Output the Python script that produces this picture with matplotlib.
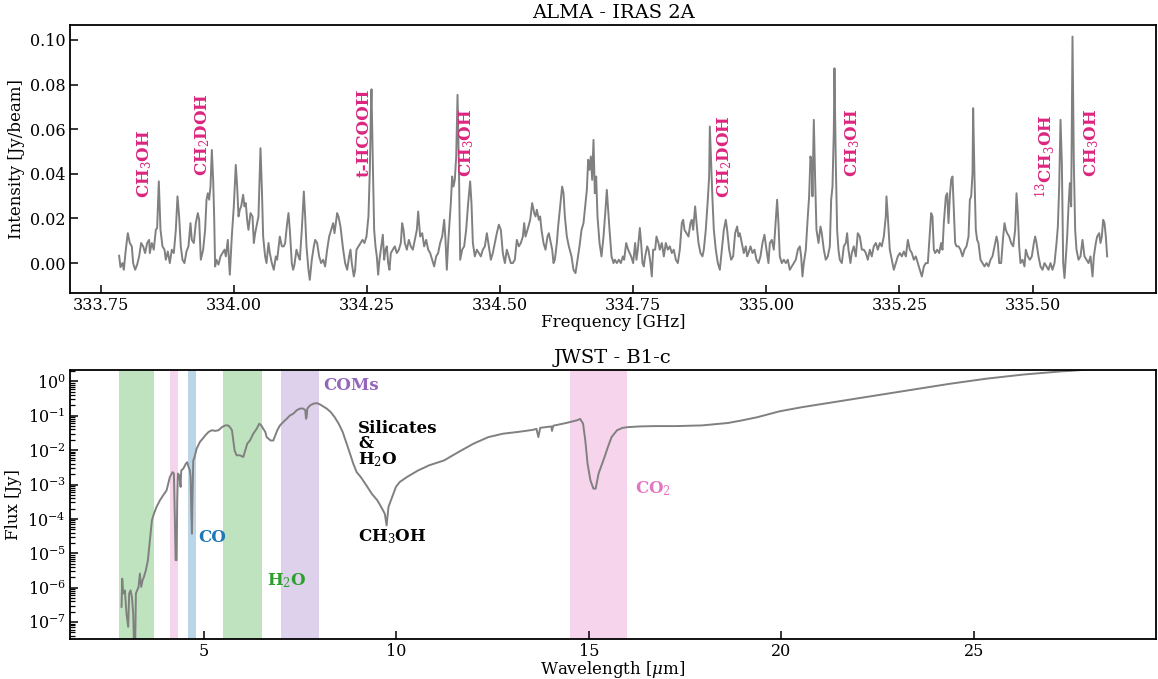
import numpy as np
import matplotlib
matplotlib.use("Agg")
import matplotlib.pyplot as plt
from matplotlib.ticker import LogLocator, NullFormatter, FixedLocator, LogFormatterSciNotation

plt.rcParams['font.family'] = 'DejaVu Serif'
plt.rcParams['mathtext.fontset'] = 'dejavuserif'

# --- ALMA spectrum ---
alma_freq = [
    333.7844, 333.7869, 333.7907, 333.7932, 333.7969, 333.8007, 333.8044, 333.8082, 333.8107, 333.8145,
    333.8182, 333.8220, 333.8257, 333.8295, 333.8332, 333.8370, 333.8408, 333.8420, 333.8458, 333.8495,
    333.8533, 333.8558, 333.8589, 333.8621, 333.8658, 333.8696, 333.8721, 333.8758, 333.8796, 333.8833,
    333.8871, 333.8909, 333.8940, 333.8971, 333.9002, 333.9034, 333.9071, 333.9109, 333.9146, 333.9184,
    333.9209, 333.9247, 333.9284, 333.9322, 333.9347, 333.9378, 333.9422, 333.9459, 333.9485, 333.9510,
    333.9535, 333.9560, 333.9585, 333.9610, 333.9629, 333.9647, 333.9672, 333.9710, 333.9748, 333.9785,
    333.9823, 333.9848, 333.9885, 333.9923, 333.9960, 333.9998, 334.0035, 334.0061, 334.0086, 334.0111,
    334.0136, 334.0173, 334.0198, 334.0223, 334.0248, 334.0273, 334.0311, 334.0349, 334.0374, 334.0399,
    334.0424, 334.0461, 334.0499, 334.0524, 334.0549, 334.0586, 334.0612, 334.0649, 334.0674, 334.0712,
    334.0749, 334.0787, 334.0812, 334.0862, 334.0900, 334.0937, 334.0962, 334.1000, 334.1025, 334.1050,
    334.1087, 334.1112, 334.1137, 334.1175, 334.1213, 334.1238, 334.1275, 334.1313, 334.1338, 334.1363,
    334.1400, 334.1425, 334.1463, 334.1501, 334.1526, 334.1563, 334.1601, 334.1638, 334.1676, 334.1713,
    334.1751, 334.1789, 334.1826, 334.1864, 334.1889, 334.1939, 334.1964, 334.2001, 334.2052, 334.2089,
    334.2127, 334.2164, 334.2189, 334.2214, 334.2252, 334.2277, 334.2302, 334.2340, 334.2377, 334.2415,
    334.2452, 334.2490, 334.2527, 334.2553, 334.2572, 334.2584, 334.2609, 334.2634, 334.2659, 334.2684,
    334.2709, 334.2734, 334.2760, 334.2797, 334.2822, 334.2847, 334.2872, 334.2897, 334.2922, 334.2947,
    334.2985, 334.3022, 334.3060, 334.3098, 334.3135, 334.3160, 334.3185, 334.3210, 334.3248, 334.3285,
    334.3323, 334.3361, 334.3398, 334.3436, 334.3461, 334.3498, 334.3536, 334.3573, 334.3611, 334.3649,
    334.3686, 334.3724, 334.3761, 334.3799, 334.3836, 334.3874, 334.3912, 334.3949, 334.3974, 334.3999,
    334.4024, 334.4049, 334.4074, 334.4099, 334.4124, 334.4149, 334.4175, 334.4200, 334.4225, 334.4250,
    334.4287, 334.4325, 334.4362, 334.4400, 334.4437, 334.4462, 334.4488, 334.4525, 334.4563, 334.4600,
    334.4638, 334.4675, 334.4713, 334.4751, 334.4788, 334.4826, 334.4863, 334.4901, 334.4938, 334.4976,
    334.5013, 334.5051, 334.5089, 334.5126, 334.5164, 334.5201, 334.5239, 334.5276, 334.5314, 334.5352,
    334.5389, 334.5427, 334.5452, 334.5477, 334.5514, 334.5565, 334.5602, 334.5640, 334.5665, 334.5690,
    334.5727, 334.5752, 334.5777, 334.5815, 334.5852, 334.5890, 334.5915, 334.5953, 334.5978, 334.6003,
    334.6028, 334.6065, 334.6090, 334.6128, 334.6165, 334.6191, 334.6216, 334.6253, 334.6291, 334.6341,
    334.6378, 334.6416, 334.6453, 334.6491, 334.6529, 334.6566, 334.6604, 334.6629, 334.6654, 334.6679,
    334.6704, 334.6729, 334.6754, 334.6779, 334.6804, 334.6829, 334.6867, 334.6904, 334.6942, 334.6979,
    334.7004, 334.7029, 334.7055, 334.7092, 334.7130, 334.7155, 334.7192, 334.7230, 334.7267, 334.7305,
    334.7330, 334.7368, 334.7405, 334.7461, 334.7499, 334.7536, 334.7561, 334.7586, 334.7624, 334.7649,
    334.7674, 334.7699, 334.7724, 334.7762, 334.7787, 334.7824, 334.7849, 334.7874, 334.7912, 334.7937,
    334.7974, 334.7999, 334.8037, 334.8075, 334.8112, 334.8150, 334.8187, 334.8225, 334.8262, 334.8300,
    334.8338, 334.8375, 334.8413, 334.8438, 334.8463, 334.8500, 334.8538, 334.8575, 334.8600, 334.8626,
    334.8663, 334.8701, 334.8726, 334.8763, 334.8801, 334.8826, 334.8863, 334.8901, 334.8926, 334.8939,
    334.8964, 334.8989, 334.9014, 334.9051, 334.9089, 334.9127, 334.9164, 334.9202, 334.9239, 334.9264,
    334.9302, 334.9339, 334.9377, 334.9414, 334.9452, 334.9477, 334.9502, 334.9540, 334.9577, 334.9615,
    334.9640, 334.9665, 334.9703, 334.9740, 334.9778, 334.9815, 334.9853, 334.9890, 334.9928, 334.9965,
    335.0003, 335.0040, 335.0066, 335.0103, 335.0141, 335.0178, 335.0203, 335.0228, 335.0253, 335.0291,
    335.0329, 335.0366, 335.0404, 335.0441, 335.0479, 335.0516, 335.0554, 335.0592, 335.0629, 335.0654,
    335.0679, 335.0704, 335.0742, 335.0779, 335.0804, 335.0829, 335.0854, 335.0867, 335.0892, 335.0917,
    335.0942, 335.0980, 335.1017, 335.1042, 335.1080, 335.1117, 335.1155, 335.1193, 335.1218, 335.1243,
    335.1268, 335.1280, 335.1305, 335.1330, 335.1355, 335.1380, 335.1418, 335.1456, 335.1493, 335.1518,
    335.1543, 335.1580, 335.1605, 335.1643, 335.1681, 335.1718, 335.1756, 335.1794, 335.1831, 335.1869,
    335.1906, 335.1944, 335.1981, 335.2019, 335.2057, 335.2094, 335.2132, 335.2169, 335.2207, 335.2244,
    335.2257, 335.2282, 335.2319, 335.2358, 335.2395, 335.2433, 335.2470, 335.2508, 335.2545, 335.2583,
    335.2621, 335.2658, 335.2696, 335.2733, 335.2771, 335.2808, 335.2846, 335.2883, 335.2921, 335.2959,
    335.2996, 335.3034, 335.3071, 335.3096, 335.3121, 335.3146, 335.3172, 335.3209, 335.3247, 335.3284,
    335.3309, 335.3334, 335.3372, 335.3397, 335.3422, 335.3447, 335.3472, 335.3497, 335.3522, 335.3547,
    335.3572, 335.3610, 335.3647, 335.3685, 335.3722, 335.3760, 335.3798, 335.3823, 335.3848, 335.3873,
    335.3885, 335.3910, 335.3935, 335.3960, 335.3985, 335.4023, 335.4061, 335.4098, 335.4136, 335.4173,
    335.4211, 335.4248, 335.4286, 335.4324, 335.4349, 335.4374, 335.4411, 335.4449, 335.4474, 335.4499,
    335.4524, 335.4561, 335.4599, 335.4637, 335.4674, 335.4699, 335.4724, 335.4749, 335.4774, 335.4812,
    335.4849, 335.4874, 335.4912, 335.4950, 335.4987, 335.5025, 335.5050, 335.5075, 335.5112, 335.5150,
    335.5188, 335.5225, 335.5263, 335.5300, 335.5338, 335.5375, 335.5413, 335.5451, 335.5476, 335.5501,
    335.5526, 335.5551, 335.5576, 335.5601, 335.5626, 335.5651, 335.5676, 335.5701, 335.5726, 335.5751,
    335.5776, 335.5801, 335.5826, 335.5864, 335.5901, 335.5939, 335.5976, 335.6014, 335.6052, 335.6089,
    335.6127, 335.6152, 335.6189, 335.6214, 335.6252, 335.6277, 335.6302, 335.6327, 335.6352, 335.6377,
    335.6402,
]
alma_intensity = [
    0.0033, -0.0018, 0.0000, -0.0030, 0.0060, 0.0134, 0.0090, 0.0075, 0.0000, -0.0030,
    -0.0007, 0.0030, 0.0090, 0.0075, 0.0045, 0.0090, 0.0104, 0.0045, 0.0090, 0.0060,
    0.0149, 0.0157, 0.0366, 0.0149, 0.0075, 0.0060, 0.0015, 0.0052, 0.0000, 0.0060,
    0.0045, 0.0149, 0.0299, 0.0209, 0.0075, 0.0015, 0.0000, 0.0052, 0.0075, 0.0179,
    0.0104, 0.0090, 0.0179, 0.0224, 0.0194, 0.0015, 0.0060, 0.0149, 0.0284, 0.0313,
    0.0284, 0.0343, 0.0507, 0.0373, 0.0209, -0.0015, 0.0015, -0.0007, 0.0030, 0.0045,
    0.0060, 0.0030, 0.0104, -0.0052, 0.0119, 0.0254, 0.0440, 0.0343, 0.0209, 0.0239,
    0.0254, 0.0306, 0.0254, 0.0269, 0.0194, 0.0149, 0.0224, 0.0209, 0.0090, 0.0134,
    0.0164, 0.0209, 0.0515, 0.0343, 0.0119, 0.0030, 0.0000, 0.0090, 0.0045, 0.0000,
    -0.0030, 0.0030, 0.0015, 0.0119, 0.0075, 0.0075, 0.0090, 0.0179, 0.0224, 0.0149,
    0.0000, -0.0030, -0.0007, 0.0060, 0.0030, 0.0015, 0.0149, 0.0321, 0.0209, 0.0075,
    -0.0030, -0.0075, 0.0015, 0.0075, 0.0104, 0.0090, 0.0030, 0.0000, 0.0015, -0.0015,
    0.0060, 0.0119, 0.0149, 0.0179, 0.0134, 0.0224, 0.0209, 0.0164, 0.0060, 0.0000,
    -0.0030, 0.0030, 0.0060, 0.0000, -0.0060, -0.0030, 0.0060, 0.0075, 0.0090, 0.0104,
    0.0090, 0.0119, 0.0209, 0.0418, 0.0672, 0.0779, 0.0448, 0.0149, 0.0075, 0.0030,
    -0.0052, 0.0015, 0.0060, 0.0127, 0.0015, 0.0060, 0.0075, 0.0000, -0.0030, 0.0045,
    0.0060, 0.0075, 0.0045, 0.0060, 0.0090, 0.0179, 0.0149, 0.0090, 0.0060, 0.0104,
    0.0075, 0.0060, 0.0104, 0.0149, 0.0231, 0.0119, 0.0134, 0.0075, 0.0104, 0.0060,
    0.0045, 0.0015, -0.0015, 0.0030, 0.0045, 0.0090, 0.0119, 0.0194, 0.0104, -0.0030,
    0.0090, 0.0179, 0.0269, 0.0388, 0.0343, 0.0373, 0.0478, 0.0754, 0.0448, 0.0015,
    0.0060, 0.0075, 0.0149, 0.0269, 0.0366, 0.0269, 0.0090, 0.0030, 0.0060, 0.0045,
    0.0030, 0.0060, 0.0075, 0.0134, 0.0075, 0.0015, 0.0045, 0.0090, 0.0134, 0.0172,
    0.0149, 0.0045, 0.0000, 0.0060, 0.0030, 0.0000, 0.0000, 0.0015, 0.0104, 0.0075,
    0.0090, 0.0119, 0.0179, 0.0119, 0.0149, 0.0194, 0.0269, 0.0224, 0.0209, 0.0239,
    0.0194, 0.0209, 0.0149, 0.0090, 0.0060, 0.0119, 0.0134, 0.0090, 0.0060, 0.0000,
    0.0015, 0.0090, 0.0164, 0.0254, 0.0343, 0.0313, 0.0209, 0.0119, 0.0075, 0.0030,
    -0.0030, -0.0045, 0.0015, 0.0075, 0.0149, 0.0179, 0.0269, 0.0328, 0.0463, 0.0418,
    0.0478, 0.0373, 0.0552, 0.0313, 0.0388, 0.0209, 0.0090, 0.0030, 0.0119, 0.0239,
    0.0328, 0.0239, 0.0149, 0.0030, 0.0000, 0.0015, 0.0000, 0.0015, 0.0000, 0.0030,
    0.0015, 0.0090, 0.0060, 0.0030, 0.0000, 0.0090, 0.0015, 0.0060, 0.0157, 0.0090,
    0.0000, -0.0015, 0.0030, 0.0075, 0.0060, 0.0000, -0.0060, 0.0060, 0.0060, 0.0119,
    0.0090, 0.0060, 0.0090, 0.0030, 0.0090, 0.0060, 0.0075, 0.0045, 0.0060, 0.0015,
    0.0000, 0.0060, 0.0179, 0.0194, 0.0149, 0.0134, 0.0119, 0.0179, 0.0194, 0.0149,
    0.0254, 0.0149, 0.0090, 0.0045, 0.0030, 0.0060, 0.0149, 0.0284, 0.0388, 0.0612,
    0.0448, 0.0284, 0.0149, 0.0060, 0.0000, -0.0030, 0.0060, 0.0149, 0.0194, 0.0149,
    0.0060, 0.0015, 0.0030, 0.0134, 0.0164, 0.0119, 0.0134, 0.0090, 0.0045, 0.0075,
    0.0030, 0.0045, 0.0075, 0.0045, 0.0060, 0.0015, 0.0000, 0.0030, 0.0090, 0.0127,
    0.0060, 0.0000, 0.0090, 0.0104, 0.0060, 0.0194, 0.0284, 0.0179, 0.0030, 0.0000,
    0.0015, 0.0000, 0.0015, -0.0030, -0.0015, 0.0000, 0.0015, 0.0060, 0.0075, 0.0030,
    -0.0060, 0.0000, 0.0060, 0.0209, 0.0299, 0.0478, 0.0448, 0.0299, 0.0642, 0.0373,
    0.0149, 0.0090, 0.0164, 0.0134, 0.0060, 0.0015, 0.0030, 0.0075, 0.0284, 0.0343,
    0.0597, 0.0873, 0.0448, 0.0149, 0.0060, 0.0015, 0.0000, 0.0075, 0.0090, 0.0134,
    0.0060, 0.0000, 0.0045, 0.0075, 0.0030, 0.0134, 0.0119, 0.0060, 0.0060, 0.0045,
    0.0015, 0.0060, 0.0030, 0.0075, 0.0090, 0.0060, 0.0090, 0.0075, 0.0119, 0.0209,
    0.0299, 0.0209, 0.0060, 0.0015, -0.0030, 0.0000, 0.0030, 0.0045, 0.0030, 0.0052,
    0.0030, 0.0104, 0.0060, 0.0045, 0.0015, 0.0030, 0.0000, -0.0030, -0.0060, -0.0015,
    0.0000, 0.0000, 0.0134, 0.0224, 0.0209, 0.0060, 0.0045, 0.0060, 0.0045, 0.0090,
    0.0060, 0.0179, 0.0299, 0.0313, 0.0179, 0.0299, 0.0373, 0.0388, 0.0239, 0.0090,
    0.0075, 0.0075, 0.0060, 0.0030, 0.0060, 0.0075, 0.0119, 0.0284, 0.0299, 0.0403,
    0.0694, 0.0388, 0.0149, 0.0104, 0.0090, 0.0015, 0.0000, -0.0015, 0.0000, -0.0015,
    0.0015, 0.0030, 0.0075, 0.0119, 0.0090, 0.0000, 0.0000, 0.0119, 0.0179, 0.0149,
    0.0134, 0.0119, 0.0090, 0.0075, 0.0149, 0.0313, 0.0224, 0.0075, 0.0000, 0.0015,
    -0.0015, 0.0060, 0.0030, 0.0015, 0.0030, 0.0090, 0.0119, 0.0090, 0.0030, -0.0015,
    -0.0030, 0.0000, -0.0015, -0.0030, 0.0000, -0.0030, 0.0000, 0.0090, 0.0164, 0.0343,
    0.0642, 0.0448, 0.0000, -0.0067, 0.0030, 0.0119, 0.0254, 0.0358, 0.0254, 0.1015,
    0.0448, 0.0149, 0.0060, 0.0015, 0.0030, 0.0104, 0.0030, 0.0015, 0.0000, 0.0030,
    -0.0060, 0.0030, 0.0090, 0.0119, 0.0134, 0.0090, 0.0119, 0.0194, 0.0179, 0.0119,
    0.0030,
]

alma_labels = [r'CH$_3$OH', r'CH$_2$DOH', r't-HCOOH', r'CH$_3$OH', r'CH$_2$DOH',
               r'CH$_3$OH', r'$^{13}$CH$_3$OH', r'CH$_3$OH']
alma_label_freq = [333.833, 333.942, 334.244, 334.437, 334.922, 335.163, 335.524, 335.611]
alma_label_y = [0.0291, 0.0392, 0.0388, 0.0388, 0.0291, 0.0388, 0.0291, 0.0388]
alma_xticks = [333.75, 334.00, 334.25, 334.50, 334.75, 335.00, 335.25, 335.50]
alma_yticks = [0.00, 0.02, 0.04, 0.06, 0.08, 0.10]

# --- JWST spectrum (log10 of flux in Jy) ---
jwst_wave = [
    2.860, 2.878, 2.904, 2.947, 2.990, 3.033, 3.059, 3.094, 3.129, 3.163,
    3.181, 3.215, 3.233, 3.267, 3.302, 3.337, 3.371, 3.406, 3.441, 3.493,
    3.545, 3.579, 3.614, 3.649, 3.701, 3.770, 3.857, 3.943, 4.030, 4.116,
    4.186, 4.220, 4.246, 4.264, 4.290, 4.307, 4.324, 4.359, 4.394, 4.411,
    4.463, 4.532, 4.567, 4.602, 4.636, 4.654, 4.671, 4.688, 4.705, 4.723,
    4.758, 4.809, 4.896, 4.965, 5.035, 5.121, 5.208, 5.294, 5.381, 5.468,
    5.554, 5.624, 5.676, 5.728, 5.762, 5.797, 5.849, 5.936, 6.022, 6.074,
    6.126, 6.195, 6.282, 6.369, 6.438, 6.490, 6.542, 6.594, 6.629, 6.681,
    6.733, 6.802, 6.854, 6.906, 6.975, 7.062, 7.148, 7.235, 7.322, 7.408,
    7.495, 7.581, 7.633, 7.651, 7.668, 7.685, 7.755, 7.841, 7.928, 8.015,
    8.101, 8.188, 8.292, 8.396, 8.500, 8.604, 8.708, 8.794, 8.881, 8.967,
    9.072, 9.217, 9.361, 9.505, 9.602, 9.698, 9.745, 9.794, 9.891, 9.987,
    10.083, 10.275, 10.564, 10.852, 11.235, 11.620, 12.004, 12.389, 12.773, 13.158,
    13.542, 13.638, 13.687, 13.734, 14.023, 14.041, 14.072, 14.408, 14.697, 14.771,
    14.848, 14.906, 14.964, 15.039, 15.117, 15.174, 15.251, 15.328, 15.406, 15.492,
    15.588, 15.731, 15.876, 16.019, 16.308, 16.692, 17.266, 17.939, 18.610, 18.994,
    19.379, 19.953, 20.530, 21.489, 22.448, 23.409, 24.368, 25.327, 26.286, 27.247,
    27.535, 28.0, 28.4,
]
jwst_logflux = [
    -6.56, -5.74, -6.17, -6.08, -6.77, -7.14, -6.17, -6.08, -6.27, -6.75,
    -7.53, -7.63, -6.17, -6.08, -5.98, -5.59, -5.98, -5.79, -5.69, -5.49,
    -5.20, -4.82, -4.43, -4.04, -3.85, -3.65, -3.46, -3.31, -3.17, -2.78,
    -2.64, -2.68, -4.04, -5.20, -5.20, -3.46, -2.68, -2.73, -3.07, -2.59,
    -2.54, -2.39, -2.35, -2.49, -2.59, -2.78, -3.75, -4.43, -3.27, -2.30,
    -2.20, -1.96, -1.76, -1.67, -1.57, -1.47, -1.42, -1.44, -1.42, -1.33,
    -1.28, -1.28, -1.33, -1.42, -1.72, -2.01, -2.15, -2.15, -2.20, -2.01,
    -1.81, -1.72, -1.52, -1.38, -1.23, -1.28, -1.38, -1.47, -1.62, -1.67,
    -1.72, -1.72, -1.57, -1.42, -1.28, -1.18, -1.09, -0.99, -0.94, -0.84,
    -0.79, -0.79, -0.84, -1.09, -1.04, -0.79, -0.70, -0.65, -0.63, -0.67,
    -0.73, -0.79, -0.89, -1.04, -1.23, -1.47, -1.81, -2.10, -2.40, -2.64,
    -2.78, -3.02, -3.27, -3.46, -3.65, -3.85, -4.19, -3.65, -3.36, -3.07,
    -2.93, -2.78, -2.59, -2.44, -2.30, -2.05, -1.81, -1.62, -1.52, -1.47,
    -1.41, -1.38, -1.62, -1.35, -1.31, -1.44, -1.29, -1.21, -1.13, -1.09,
    -1.23, -1.72, -2.39, -2.88, -3.12, -3.12, -2.68, -2.44, -2.20, -1.91,
    -1.62, -1.42, -1.35, -1.33, -1.31, -1.30, -1.30, -1.28, -1.21, -1.13,
    -1.04, -0.87, -0.75, -0.58, -0.41, -0.24, -0.07, 0.08, 0.20, 0.29,
    0.31, 0.35, 0.38,
]
jwst_xticks = [5, 10, 15, 20, 25]
jwst_yticks = [1e-7, 1e-6, 1e-5, 1e-4, 1e-3, 1e-2, 1e-1, 1e0]

# ice bands: (start, end, colour)
band_start = [2.8, 4.12, 4.58, 5.5, 7.0, 14.5]
band_end = [3.7, 4.33, 4.8, 6.5, 8.0, 16.0]
band_color = ['tab:green', 'tab:pink', 'tab:blue', 'tab:green', 'tab:purple', 'tab:pink']

label_color = '#DC267F'
line_color = 'grey'

fig = plt.figure(figsize=(11.58, 6.79), dpi=100)
ax1 = fig.add_axes([0.0604, 0.5685, 0.9379, 0.3947])
ax2 = fig.add_axes([0.0604, 0.0589, 0.9379, 0.3962])

# --- top panel: ALMA ---
ax1.plot(alma_freq, alma_intensity, color=line_color, lw=1.4)
for lab, fx, fy in zip(alma_labels, alma_label_freq, alma_label_y):
    ax1.text(fx, fy, lab, rotation=90, color=label_color, fontweight='bold',
             fontsize=12, ha='center', va='bottom')
ax1.set_xticks(alma_xticks)
ax1.set_yticks(alma_yticks)
ax1.set_xlim(333.692, 335.732)
ax1.set_ylim(-0.0134, 0.1067)
ax1.set_title('ALMA - IRAS 2A', fontsize=14, pad=5)
ax1.set_xlabel('Frequency [GHz]', fontsize=12, labelpad=0)
ax1.set_ylabel('Intensity [Jy/beam]', fontsize=12)

# --- bottom panel: JWST ---
flux = 10 ** np.array(jwst_logflux)
for s, e, c in zip(band_start, band_end, band_color):
    ax2.axvspan(s, e, color=c, alpha=0.3, lw=0)
ax2.plot(jwst_wave, flux, color=line_color, lw=1.4)
ax2.set_yscale('log')
ax2.set_xticks(jwst_xticks)
ax2.set_xlim(1.52, 29.73)
ax2.set_ylim(3.2e-8, 2.15)
ax2.yaxis.set_major_locator(FixedLocator(jwst_yticks))
ax2.yaxis.set_major_formatter(LogFormatterSciNotation())
ax2.yaxis.set_minor_locator(LogLocator(base=10, subs=np.arange(2, 10), numticks=20))
ax2.yaxis.set_minor_formatter(NullFormatter())

ax2.text(8.11, 10 ** -0.12, 'COMs', color='tab:purple', fontweight='bold', fontsize=12, va='center')
ax2.text(9.0, 10 ** -1.12, 'Silicates\n&\nH$_2$O', color='black', fontweight='bold',
         fontsize=12, va='top', linespacing=0.85)
ax2.text(9.0, 10 ** -4.53, 'CH$_3$OH', color='black', fontweight='bold', fontsize=12, va='center')
ax2.text(4.86, 10 ** -4.53, 'CO', color='tab:blue', fontweight='bold', fontsize=12, va='center')
ax2.text(6.63, 10 ** -5.81, 'H$_2$O', color='tab:green', fontweight='bold', fontsize=12, va='center')
ax2.text(16.19, 10 ** -3.12, 'CO$_2$', color='tab:pink', fontweight='bold', fontsize=12, va='center')

ax2.set_title('JWST - B1-c', fontsize=14, pad=5)
ax2.set_xlabel(r'Wavelength [$\mu$m]', fontsize=12, labelpad=-1)
ax2.set_ylabel('Flux [Jy]', fontsize=12)

for ax in (ax1, ax2):
    ax.tick_params(which='both', direction='in', top=False, right=False, labelsize=11.5, pad=3)
    ax.tick_params(which='major', length=6, width=1.1)
    ax.tick_params(which='minor', length=3.5, width=0.9)
    for sp in ax.spines.values():
        sp.set_linewidth(1.3)

fig.savefig('out.png', dpi=100)
